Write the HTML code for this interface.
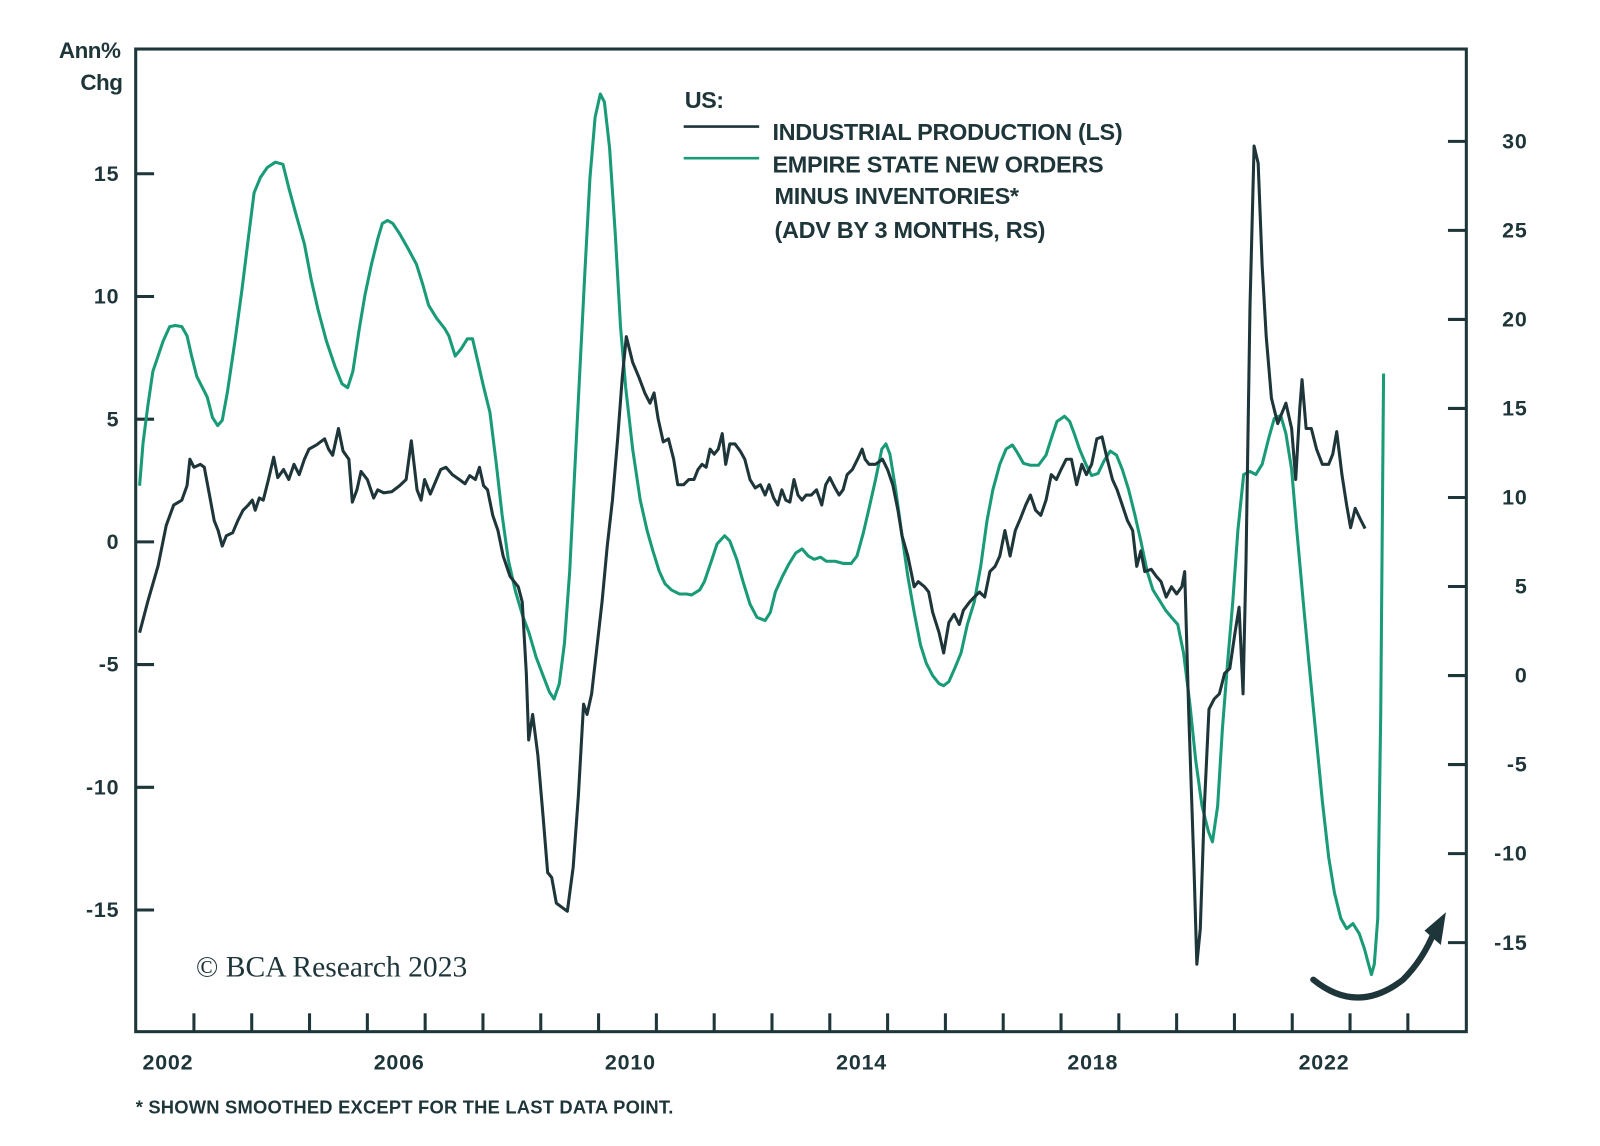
<!DOCTYPE html>
<html><head><meta charset="utf-8"><style>
html,body{margin:0;padding:0;background:#fff;}
svg{display:block;}
svg text{font-family:"Liberation Sans",sans-serif;fill:#1e3539;}
</style></head><body>
<svg id="chart" width="1600" height="1146" viewBox="0 0 1568 1123" xmlns="http://www.w3.org/2000/svg">
<g id="axes"></g>
<g id="series"></g>
<g>
<text x="671" y="106" font-size="23" font-weight="bold" letter-spacing="-0.5">US:</text>
<line x1="670" y1="124" x2="744" y2="124" stroke="#1e3539" stroke-width="2.5"/>
<text x="757" y="137" font-size="23" font-weight="bold" letter-spacing="-0.3">INDUSTRIAL PRODUCTION (LS)</text>
<line x1="670" y1="155" x2="744" y2="155" stroke="#1a9b78" stroke-width="2.5"/>
<text x="757" y="169" font-size="23" font-weight="bold" letter-spacing="-0.3">EMPIRE STATE NEW ORDERS</text>
<text x="759" y="200" font-size="23" font-weight="bold" letter-spacing="-0.3">MINUS INVENTORIES*</text>
<text x="759" y="233" font-size="23" font-weight="bold" letter-spacing="-0.3">(ADV BY 3 MONTHS, RS)</text>
</g>
<text x="118" y="57" font-size="22" font-weight="bold" text-anchor="end" letter-spacing="-0.5">Ann%</text>
<text x="120" y="88" font-size="22" font-weight="bold" text-anchor="end" letter-spacing="-0.5">Chg</text>
<text x="192" y="957" font-size="29" style="font-family:'Liberation Serif',serif">© BCA Research 2023</text>
<text x="133" y="1091" font-size="18" font-weight="bold" letter-spacing="0.2">* SHOWN SMOOTHED EXCEPT FOR THE LAST DATA POINT.</text>
<g>
<path d="M1287,960 Q1330,995 1375,960 Q1395,940 1406,912" fill="none" stroke="#1e3539" stroke-width="6" stroke-linecap="round"/>
<polygon points="1417,894 1396,912 1412,926" fill="#1e3539"/>
</g>
</svg>
<script>
const ipDates=[2002.06,2002.20,2002.38,2002.52,2002.65,2002.79,2002.88,2002.93,2003.00,2003.11,2003.18,2003.27,2003.35,2003.42,2003.49,2003.56,2003.67,2003.76,2003.85,2003.94,2004.01,2004.06,2004.13,2004.20,2004.29,2004.38,2004.45,2004.55,2004.64,2004.73,2004.82,2004.91,2004.99,2005.12,2005.26,2005.33,2005.40,2005.50,2005.58,2005.68,2005.74,2005.82,2005.89,2006.00,2006.11,2006.18,2006.28,2006.42,2006.56,2006.67,2006.76,2006.86,2006.93,2006.99,2007.09,2007.18,2007.27,2007.36,2007.47,2007.59,2007.69,2007.77,2007.87,2007.94,2008.01,2008.08,2008.17,2008.26,2008.35,2008.47,2008.61,2008.68,2008.75,2008.79,2008.86,2008.95,2009.04,2009.12,2009.19,2009.27,2009.39,2009.46,2009.56,2009.65,2009.74,2009.80,2009.88,2009.97,2010.06,2010.15,2010.24,2010.33,2010.41,2010.48,2010.59,2010.70,2010.80,2010.89,2010.96,2011.03,2011.12,2011.21,2011.30,2011.37,2011.47,2011.56,2011.65,2011.72,2011.79,2011.86,2011.93,2012.00,2012.07,2012.14,2012.20,2012.27,2012.36,2012.45,2012.53,2012.62,2012.71,2012.80,2012.88,2012.95,2013.03,2013.10,2013.17,2013.24,2013.31,2013.38,2013.45,2013.52,2013.59,2013.68,2013.77,2013.86,2013.93,2014.00,2014.09,2014.16,2014.23,2014.30,2014.39,2014.48,2014.56,2014.61,2014.68,2014.79,2014.91,2015.00,2015.09,2015.18,2015.25,2015.35,2015.46,2015.53,2015.64,2015.71,2015.78,2015.89,2015.97,2016.06,2016.15,2016.24,2016.31,2016.42,2016.50,2016.59,2016.68,2016.77,2016.86,2016.94,2017.03,2017.12,2017.21,2017.30,2017.39,2017.47,2017.56,2017.65,2017.74,2017.83,2017.92,2018.00,2018.09,2018.18,2018.27,2018.36,2018.44,2018.53,2018.62,2018.71,2018.80,2018.89,2018.97,2019.06,2019.15,2019.24,2019.31,2019.38,2019.45,2019.56,2019.65,2019.73,2019.82,2019.91,2020.00,2020.09,2020.14,2020.21,2020.30,2020.35,2020.41,2020.48,2020.56,2020.65,2020.74,2020.83,2020.92,2021.01,2021.08,2021.15,2021.20,2021.27,2021.34,2021.41,2021.48,2021.55,2021.64,2021.75,2021.82,2021.89,2021.99,2022.06,2022.13,2022.17,2022.24,2022.33,2022.42,2022.52,2022.63,2022.70,2022.77,2022.86,2022.94,2023.01,2023.09,2023.17,2023.26];
const ipValues=[-3.70,-2.45,-0.98,0.67,1.50,1.70,2.29,3.37,3.04,3.16,3.04,1.91,0.87,0.46,-0.17,0.25,0.37,0.87,1.29,1.50,1.70,1.29,1.79,1.70,2.54,3.45,2.62,2.95,2.54,3.16,2.74,3.37,3.78,3.95,4.20,3.78,3.53,4.62,3.70,3.37,1.62,2.12,2.87,2.54,1.79,2.12,2.00,2.04,2.29,2.54,4.12,2.12,1.70,2.54,1.95,2.45,2.95,3.04,2.74,2.54,2.37,2.70,2.54,3.04,2.29,2.12,1.08,0.46,-0.58,-1.41,-1.83,-2.45,-5.36,-8.07,-7.03,-8.69,-11.18,-13.47,-13.68,-14.72,-14.93,-15.05,-13.26,-10.35,-6.61,-7.03,-6.19,-4.32,-2.45,-0.17,1.70,4.20,6.69,8.36,7.32,6.69,6.07,5.65,6.07,5.03,4.07,4.20,3.37,2.33,2.33,2.54,2.54,2.95,3.16,3.04,3.78,3.57,3.78,4.41,3.16,3.99,3.99,3.70,3.37,2.54,2.20,2.33,1.91,2.33,1.79,1.50,2.12,1.70,1.62,2.54,1.91,1.70,1.91,1.91,2.12,1.50,2.33,2.62,2.20,1.91,2.12,2.74,2.95,3.37,3.78,3.37,3.16,3.16,3.37,2.95,2.33,1.29,0.25,-0.58,-1.83,-1.62,-1.83,-2.04,-2.87,-3.70,-4.53,-3.28,-2.95,-3.37,-2.79,-2.45,-2.25,-2.04,-2.25,-1.21,-1.00,-0.58,0.46,-0.58,0.46,0.96,1.50,1.91,1.29,1.08,1.70,2.74,2.54,2.95,3.37,3.37,2.33,3.16,2.74,3.16,4.20,4.28,3.37,2.54,2.12,1.50,0.87,0.46,-1.00,-0.37,-1.21,-1.12,-1.41,-1.62,-2.25,-1.83,-2.12,-1.83,-1.21,-7.03,-13.26,-17.21,-15.76,-10.77,-6.82,-6.40,-6.19,-5.36,-5.16,-3.70,-2.66,-6.19,-0.79,9.61,16.13,15.43,11.27,8.36,5.86,4.82,5.24,5.65,4.62,2.54,5.45,6.61,4.62,4.62,3.78,3.16,3.16,3.57,4.49,2.74,1.50,0.58,1.37,0.96,0.54];
const esDates=[2002.06,2002.12,2002.20,2002.29,2002.38,2002.47,2002.58,2002.68,2002.79,2002.88,2002.96,2003.05,2003.14,2003.23,2003.32,2003.41,2003.49,2003.58,2003.71,2003.83,2003.94,2004.04,2004.15,2004.27,2004.41,2004.54,2004.64,2004.76,2004.91,2005.03,2005.15,2005.29,2005.44,2005.56,2005.66,2005.75,2005.86,2005.96,2006.07,2006.18,2006.26,2006.35,2006.44,2006.56,2006.71,2006.85,2006.96,2007.06,2007.20,2007.34,2007.41,2007.52,2007.62,2007.73,2007.82,2007.91,2008.01,2008.12,2008.23,2008.33,2008.44,2008.56,2008.69,2008.79,2008.92,2009.04,2009.15,2009.23,2009.32,2009.41,2009.50,2009.58,2009.67,2009.76,2009.85,2009.94,2010.03,2010.10,2010.19,2010.29,2010.38,2010.47,2010.59,2010.72,2010.84,2010.94,2011.05,2011.15,2011.26,2011.40,2011.52,2011.61,2011.75,2011.83,2011.95,2012.05,2012.18,2012.27,2012.39,2012.50,2012.62,2012.74,2012.88,2012.97,2013.06,2013.18,2013.29,2013.41,2013.52,2013.63,2013.73,2013.84,2013.94,2014.09,2014.23,2014.37,2014.47,2014.58,2014.68,2014.79,2014.90,2014.97,2015.04,2015.14,2015.25,2015.35,2015.46,2015.57,2015.67,2015.78,2015.89,2015.97,2016.06,2016.16,2016.27,2016.38,2016.50,2016.61,2016.72,2016.82,2016.94,2017.05,2017.16,2017.24,2017.35,2017.47,2017.61,2017.74,2017.83,2017.93,2018.06,2018.15,2018.23,2018.32,2018.43,2018.53,2018.64,2018.74,2018.85,2018.96,2019.06,2019.17,2019.28,2019.38,2019.49,2019.59,2019.70,2019.81,2019.91,2020.02,2020.12,2020.23,2020.33,2020.44,2020.55,2020.62,2020.71,2020.79,2020.88,2020.97,2021.06,2021.16,2021.27,2021.37,2021.48,2021.59,2021.69,2021.80,2021.89,2021.99,2022.08,2022.19,2022.29,2022.41,2022.52,2022.63,2022.73,2022.84,2022.94,2023.05,2023.16,2023.25,2023.32,2023.37,2023.42,2023.48,2023.53,2023.58];
const esValues=[10.66,13.07,15.07,17.08,17.94,18.80,19.60,19.66,19.60,19.08,17.94,16.79,16.22,15.64,14.50,14.04,14.33,15.93,18.80,21.66,24.53,27.11,27.97,28.54,28.83,28.71,27.39,25.96,24.24,22.23,20.52,18.80,17.36,16.39,16.16,17.08,19.48,21.38,23.09,24.53,25.39,25.56,25.39,24.81,23.95,23.09,21.95,20.80,20.06,19.48,19.08,17.94,18.34,18.91,18.91,17.65,16.22,14.79,11.92,9.05,6.48,4.76,3.32,2.46,1.03,0,-0.92,-1.32,-0.46,1.83,5.85,11.00,16.73,22.46,27.91,31.35,32.66,32.21,29.63,24.76,19.60,16.16,12.72,9.86,8.14,6.99,5.85,5.16,4.81,4.58,4.58,4.53,4.81,5.27,6.42,7.39,7.85,7.56,6.53,5.27,4.01,3.27,3.09,3.55,4.70,5.56,6.25,6.88,7.11,6.71,6.53,6.65,6.42,6.42,6.30,6.30,6.71,8.02,9.40,11.00,12.72,13.01,12.44,10.43,7.85,5.56,3.55,1.72,0.69,0,-0.46,-0.57,-0.34,0.40,1.26,2.87,4.13,6.13,8.71,10.43,11.86,12.72,12.95,12.55,11.92,11.81,11.81,12.38,13.30,14.27,14.56,14.27,13.58,12.72,11.86,11.23,11.35,12.03,12.61,12.38,11.58,10.43,9.00,7.56,5.85,4.81,4.24,3.67,3.27,2.87,1.26,-1.60,-4.76,-7.33,-8.77,-9.34,-7.33,-3.04,0.69,4.13,8.14,11.29,11.46,11.29,11.86,13.30,14.44,14.61,13.58,11.58,8.14,4.13,0.69,-3.32,-7.05,-10.20,-12.21,-13.64,-14.21,-13.93,-14.50,-15.36,-16.22,-16.79,-16.22,-13.64,-2.18,16.96];
const leftTicks=[15,10,5,0,-5,-10,-15];
const rightTicks=[30,25,20,15,10,5,0,-5,-10,-15];
const yearLabels=[2002,2006,2010,2014,2018,2022];
const yearTicks=[2003,2004,2005,2006,2007,2008,2009,2010,2011,2012,2013,2014,2015,2016,2017,2018,2019,2020,2021,2022,2023,2024];

const NS='http://www.w3.org/2000/svg';
const X0=133.4,PX=56.65,L=133,R=1437,T=48,B=1011;
function xs(t){return X0+(t-2002)*PX;}
function yl(v){return 531-v*24.05;}
function yr(v){return 662-v*17.45;}
const axes=document.getElementById('axes');
const ser=document.getElementById('series');
const C='#1e3539';
function mk(tag,attrs,parent){const e=document.createElementNS(NS,tag);for(const k in attrs)e.setAttribute(k,attrs[k]);parent.appendChild(e);return e;}

const frame=mk('rect',{x:L,y:T,width:R-L,height:B-T,fill:'none',stroke:C,'stroke-width':3},axes);



leftTicks.forEach(v=>{
  const y=yl(v);
  const tk=mk('line',{x1:L,x2:L+18,y1:y,y2:y,stroke:C,'stroke-width':3},axes);
  
  
  const tx=mk('text',{x:117,y:y+7,'font-size':21,'font-weight':'bold','text-anchor':'end','letter-spacing':0.8},axes);
  tx.textContent=v;
  
  
});
rightTicks.forEach(v=>{
  const y=yr(v);
  const tk=mk('line',{x1:R-18,x2:R,y1:y,y2:y,stroke:C,'stroke-width':3},axes);
  
  
  const tx=mk('text',{x:1497,y:y+7,'font-size':21,'font-weight':'bold','text-anchor':'end','letter-spacing':0.8},axes);
  tx.textContent=v;
  
  
});
yearTicks.forEach(yv=>{
  const x=xs(yv);
  const tk=mk('line',{x1:x,x2:x,y1:B-18,y2:B,stroke:C,'stroke-width':3},axes);
  
  
});
yearLabels.forEach(yv=>{
  const tx=mk('text',{x:xs(yv+0.55),y:1048,'font-size':21,'font-weight':'bold','text-anchor':'middle','letter-spacing':0.8},axes);
  tx.textContent=yv;
  
  
});

function path(dates,vals,yf){return dates.map((d,i)=>(i?'L':'M')+xs(d).toFixed(1)+','+yf(vals[i]).toFixed(1)).join(' ');}
const pe=mk('path',{d:path(esDates,esValues,yr),fill:'none',stroke:'#1a9b78','stroke-width':3,'stroke-linejoin':'round'},ser);


const pi=mk('path',{d:path(ipDates,ipValues,yl),fill:'none',stroke:C,'stroke-width':3,'stroke-linejoin':'round'},ser);


</script>
</body></html>
